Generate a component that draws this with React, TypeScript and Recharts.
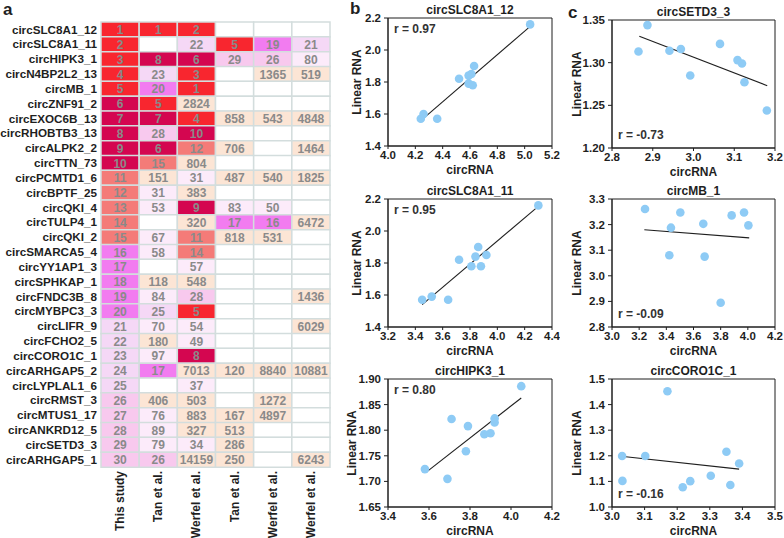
import React from "react";
import {
  BarChart,
  Bar,
  XAxis,
  YAxis,
  Cell,
  LabelList,
  ScatterChart,
  Scatter,
  ReferenceLine,
  ReferenceArea,
} from "recharts";

const FONT = '"Liberation Sans", Arial, Helvetica, sans-serif';
const INK = "#1f1f1f";
const DOT = "#8ECBF5";

// ---- panel a: ranking table ----
const rowNames = [
  "circSLC8A1_12", "circSLC8A1_11", "circHIPK3_1", "circN4BP2L2_13", "circMB_1",
  "circZNF91_2", "circEXOC6B_13", "circRHOBTB3_13", "circALPK2_2", "circTTN_73",
  "circPCMTD1_6", "circBPTF_25", "circQKI_4", "circTULP4_1", "circQKI_2",
  "circSMARCA5_4", "circYY1AP1_3", "circSPHKAP_1", "circFNDC3B_8", "circMYBPC3_3",
  "circLIFR_9", "circFCHO2_5", "circCORO1C_1", "circARHGAP5_2", "circLYPLAL1_6",
  "circRMST_3", "circMTUS1_17", "circANKRD12_5", "circSETD3_3", "circARHGAP5_1",
];
const thisStudy = [1, 2, 3, 4, 5, 6, 7, 8, 9, 10, 11, 12, 13, 14, 15, 16, 17, 18, 19, 20, 21, 22, 23, 24, 25, 26, 27, 28, 29, 30];
const humanTan = [1, null, 8, 23, 20, 5, 7, 28, 6, 15, 151, 31, 53, null, 67, 58, null, 118, 84, 25, 70, 180, 97, 17, null, 406, 76, 89, 79, 26];
const humanWerfel = [2, 22, 6, 3, 1, 2824, 4, 10, 12, 804, 31, 383, 9, 320, 11, 14, 57, 548, 28, 5, 54, 49, 8, 7013, 37, 503, 883, 327, 34, 14159];
const mouseTan = [null, 5, 29, null, null, null, 858, null, 706, null, 487, null, 83, 17, 818, null, null, null, null, null, null, null, null, 120, null, null, 167, 513, 286, 250];
const mouseWerfel = [null, 19, 26, 1365, null, null, 543, null, null, null, 540, null, 50, 16, 531, null, null, null, null, null, null, null, null, 8840, null, 1272, 4897, null, null, null];
const ratWerfel = [null, 21, 80, 519, null, null, 4848, null, 1464, null, 1825, null, null, 6472, null, null, null, null, 1436, null, 6029, null, null, 10881, null, null, null, null, null, 6243];

const columns = [thisStudy, humanTan, humanWerfel, mouseTan, mouseWerfel, ratWerfel];
const colNames = ["This study", "Tan et al.", "Werfel et al.", "Tan et al.", "Werfel et al.", "Werfel et al."];
const groupNames = ["Human", "Mouse", "Rat"];
const groupCenters = [1.5, 4, 5.5];
const groupSpans = [3, 2, 1];

function rankColor(v: number | null) {
  if (v == null) return "#ffffff";
  if (v <= 5) return "#F8262F";
  if (v <= 10) return "#D40650";
  if (v <= 15) return "#F47B78";
  if (v <= 20) return "#F27CF0";
  if (v <= 25) return "#F5D8F6";
  if (v <= 30) return "#F8C9EE";
  if (v <= 100) return "#FCEBFA";
  return "#FCE5D5";
}

const heatData = rowNames.map((name, i) => {
  const row: any = { name };
  columns.forEach((col, k) => {
    row[`c${k}`] = 1;
    row[`v${k}`] = col[i];
  });
  return row;
});

const HEAT_W = 340;
const HEAT_LEFT = 101;
const HEAT_RIGHT = 10;
const colW = (HEAT_W - HEAT_LEFT - HEAT_RIGHT) / 6;

function ColTick(props: any) {
  const { x, y, payload } = props;
  const label = colNames[Math.floor(payload.value)];
  return (
    <text
      transform={`translate(${x},${y}) rotate(-90)`}
      textAnchor="end"
      dominantBaseline="central"
      fill={INK}
      fontSize={12}
      fontWeight="bold"
    >
      {label}
    </text>
  );
}

function GroupTick(props: any) {
  const { x, y, payload } = props;
  const idx = groupCenters.indexOf(payload.value);
  const half = (groupSpans[idx] * colW) / 2 - 2;
  return (
    <g>
      <text x={x} y={y - 4} textAnchor="middle" fill="#555" fontSize={12} fontWeight="bold">
        {groupNames[idx]}
      </text>
      <line x1={x - half} x2={x + half} y1={y - 0.5} y2={y - 0.5} stroke="#555" strokeWidth={1.3} />
    </g>
  );
}

function CellLabel(p: any) {
  if (p.value == null) return null;
  const vb = p.viewBox ?? p;
  return (
    <text
      x={vb.x + vb.width / 2}
      y={vb.y + vb.height / 2 + 0.5}
      textAnchor="middle"
      dominantBaseline="central"
      fill="#8a8a8a"
      fontSize={12}
      fontWeight="bold"
    >
      {p.value}
    </text>
  );
}

function Heatmap() {
  return (
    <BarChart
      width={HEAT_W}
      height={538}
      data={heatData}
      layout="vertical"
      barCategoryGap={0}
      margin={{ top: 0, right: HEAT_RIGHT, left: 0, bottom: 0 }}
    >
      <XAxis
        type="number"
        domain={[0, 6]}
        ticks={[0.5, 1.5, 2.5, 3.5, 4.5, 5.5]}
        interval={0}
        height={71}
        axisLine={false}
        tickLine={false}
        tickSize={0}
        tickMargin={4}
        tick={<ColTick />}
      />
      <XAxis
        xAxisId="top"
        orientation="top"
        type="number"
        domain={[0, 6]}
        ticks={groupCenters}
        interval={0}
        height={22}
        axisLine={false}
        tickLine={false}
        tickSize={0}
        tickMargin={4}
        tick={<GroupTick />}
      />
      <YAxis
        type="category"
        dataKey="name"
        width={HEAT_LEFT}
        interval={0}
        axisLine={false}
        tickLine={false}
        tickSize={0}
        tickMargin={4}
        tick={{ fill: INK, fontSize: 11.7, fontWeight: "bold" }}
      />
      {columns.map((col, k) => (
        <Bar
          key={k}
          dataKey={`c${k}`}
          stackId="s"
          isAnimationActive={false}
          stroke="#D3DDDD"
          strokeWidth={1.5}
        >
          {col.map((v, i) => (
            <Cell key={i} fill={rankColor(v)} />
          ))}
          <LabelList dataKey={`v${k}`} content={<CellLabel />} />
        </Bar>
      ))}
    </BarChart>
  );
}

// ---- panels b and c: circRNA vs linear RNA ----
const slc12Circ = [5.04, 4.63, 4.61, 4.59, 4.52, 4.59, 4.62, 4.26, 4.24, 4.36];
const slc12Linear = [2.16, 1.9, 1.85, 1.84, 1.82, 1.79, 1.78, 1.6, 1.57, 1.57];
const slc12Fit = [[4.27, 1.58], [5.03, 2.14]];

const slc11Circ = [4.3, 3.86, 3.84, 3.92, 3.72, 3.81, 3.88, 3.52, 3.45, 3.64];
const slc11Linear = [2.16, 1.9, 1.84, 1.85, 1.82, 1.78, 1.78, 1.59, 1.57, 1.57];
const slc11Fit = [[3.45, 1.54], [4.28, 2.14]];

const hipkCirc = [4.05, 3.71, 3.79, 3.92, 3.92, 3.87, 3.9, 3.78, 3.58, 3.69];
const hipkLinear = [1.886, 1.822, 1.808, 1.823, 1.815, 1.792, 1.794, 1.759, 1.724, 1.705];
const hipkFit = [[3.59, 1.719], [4.05, 1.863]];

const setdCirc = [2.887, 2.865, 2.941, 2.969, 2.992, 3.065, 3.108, 3.119, 3.125, 3.18];
const setdLinear = [1.344, 1.313, 1.314, 1.316, 1.285, 1.322, 1.303, 1.299, 1.277, 1.244];
const setdFit = [[2.867, 1.331], [3.181, 1.273]];

const mbCirc = [3.243, 3.503, 3.434, 3.672, 3.881, 3.972, 4.004, 3.422, 3.682, 3.8];
const mbLinear = [3.261, 3.247, 3.188, 3.203, 3.236, 3.247, 3.197, 3.08, 3.075, 2.895];
const mbFit = [[3.238, 3.18], [4.01, 3.148]];

const coroCirc = [3.17, 3.031, 3.102, 3.351, 3.39, 3.303, 3.24, 3.217, 3.363, 3.032];
const coroLinear = [1.452, 1.199, 1.199, 1.216, 1.17, 1.122, 1.101, 1.077, 1.086, 1.102];
const coroFit = [[3.035, 1.197], [3.39, 1.148]];

const tickStyle = { fill: INK, fontSize: 11.5, fontWeight: "bold" };
const PLOT_H = 128;
const X_AXIS_H = 28;

function ScatterPanel(props: any) {
  const {
    left, plotTop, width, yAxisWidth, rightMargin, title, xs, ys, fit,
    xDomain, xTicks, yDomain, yTicks, yDigits, rText, rAtBottom, labelOffset,
  } = props;
  const top = plotTop - 10;
  const height = 10 + PLOT_H + X_AXIS_H + 2;
  const plotW = width - yAxisWidth - rightMargin;
  const pts = xs.map((x: number, i: number) => ({ x, y: ys[i] }));
  return (
    <div style={{ position: "absolute", left, top, width, height }}>
      <ScatterChart
        width={width}
        height={height}
        margin={{ top: 10, right: rightMargin, left: 0, bottom: 2 }}
      >
        <XAxis
          type="number"
          dataKey="x"
          domain={xDomain}
          ticks={xTicks}
          interval={0}
          allowDataOverflow
          height={X_AXIS_H}
          stroke={INK}
          tickSize={3}
          tickMargin={2}
          tick={tickStyle}
          tickFormatter={(v: number) => v.toFixed(1)}
          label={{ value: "circRNA", position: "insideBottom", offset: 0, fill: INK, fontSize: 12, fontWeight: "bold" }}
        />
        <YAxis
          type="number"
          dataKey="y"
          domain={yDomain}
          ticks={yTicks}
          interval={0}
          allowDataOverflow
          width={yAxisWidth}
          stroke={INK}
          tickSize={4}
          tickMargin={3}
          tick={tickStyle}
          tickFormatter={(v: number) => v.toFixed(yDigits)}
          label={{
            value: "Linear RNA",
            angle: -90,
            position: "insideLeft",
            offset: labelOffset ?? 17,
            fill: INK,
            fontSize: 12,
            fontWeight: "bold",
            style: { textAnchor: "middle" },
          }}
        />
        <ReferenceArea
          x1={xDomain[0]}
          x2={xDomain[1]}
          y1={yDomain[0]}
          y2={yDomain[1]}
          fill="none"
          stroke={INK}
          strokeWidth={1}
        />
        <Scatter
          data={pts}
          isAnimationActive={false}
          shape={(p: any) => <circle cx={p.cx} cy={p.cy} r={4.3} fill={DOT} />}
        />
        <ReferenceLine
          segment={[{ x: fit[0][0], y: fit[0][1] }, { x: fit[1][0], y: fit[1][1] }]}
          stroke={INK}
          strokeWidth={1.1}
        />
      </ScatterChart>
      <div
        style={{
          position: "absolute",
          left: yAxisWidth,
          width: plotW,
          top: 2 - 7,
          height: 14,
          lineHeight: "14px",
          textAlign: "center",
          fontSize: 12,
          fontWeight: "bold",
          color: INK,
        }}
      >
        {title}
      </div>
      <div
        style={{
          position: "absolute",
          left: yAxisWidth + 6,
          top: rAtBottom ? 10 + PLOT_H - 13 - 7 : 10 + 11 - 7,
          height: 14,
          lineHeight: "14px",
          fontSize: 12,
          fontWeight: "bold",
          color: "#333",
          whiteSpace: "nowrap",
        }}
      >
        {rText}
      </div>
    </div>
  );
}

const panelLetter = (txt: string, left: number, top: number) => (
  <div
    style={{
      position: "absolute",
      left,
      top,
      fontSize: 17,
      fontWeight: "bold",
      lineHeight: "18px",
      color: INK,
    }}
  >
    {txt}
  </div>
);

export default function App() {
  const b = { left: 340, width: 220, yAxisWidth: 48, rightMargin: 8 };
  const c = { left: 560, width: 224, yAxisWidth: 52, rightMargin: 9 };
  return (
    <div
      style={{
        position: "absolute",
        left: 0,
        top: 0,
        width: 784,
        height: 538,
        background: "#fff",
        fontFamily: FONT,
        overflow: "hidden",
      }}
    >
      <div style={{ position: "absolute", left: 0, top: 0 }}>
        <Heatmap />
      </div>
      {panelLetter("a", 3, 1)}
      {panelLetter("b", 350, 0)}
      {panelLetter("c", 568, 4)}

      <ScatterPanel
        {...b}
        plotTop={18}
        title="circSLC8A1_12"
        xs={slc12Circ}
        ys={slc12Linear}
        fit={slc12Fit}
        xDomain={[4.0, 5.2]}
        xTicks={[4.0, 4.2, 4.4, 4.6, 4.8, 5.0, 5.2]}
        yDomain={[1.4, 2.2]}
        yTicks={[1.4, 1.6, 1.8, 2.0, 2.2]}
        yDigits={1}
        rText="r = 0.97"
      />
      <ScatterPanel
        {...b}
        plotTop={199}
        title="circSLC8A1_11"
        xs={slc11Circ}
        ys={slc11Linear}
        fit={slc11Fit}
        xDomain={[3.2, 4.4]}
        xTicks={[3.2, 3.4, 3.6, 3.8, 4.0, 4.2, 4.4]}
        yDomain={[1.4, 2.2]}
        yTicks={[1.4, 1.6, 1.8, 2.0, 2.2]}
        yDigits={1}
        rText="r = 0.95"
      />
      <ScatterPanel
        {...b}
        plotTop={379}
        title="circHIPK3_1"
        xs={hipkCirc}
        ys={hipkLinear}
        fit={hipkFit}
        xDomain={[3.4, 4.2]}
        xTicks={[3.4, 3.6, 3.8, 4.0, 4.2]}
        yDomain={[1.65, 1.9]}
        yTicks={[1.65, 1.7, 1.75, 1.8, 1.85, 1.9]}
        yDigits={2}
        rText="r = 0.80"
        labelOffset={12}
      />
      <ScatterPanel
        {...c}
        plotTop={20}
        title="circSETD3_3"
        xs={setdCirc}
        ys={setdLinear}
        fit={setdFit}
        xDomain={[2.8, 3.2]}
        xTicks={[2.8, 2.9, 3.0, 3.1, 3.2]}
        yDomain={[1.2, 1.35]}
        yTicks={[1.2, 1.25, 1.3, 1.35]}
        yDigits={2}
        rText="r = -0.73"
        rAtBottom
      />
      <ScatterPanel
        {...c}
        plotTop={199}
        title="circMB_1"
        xs={mbCirc}
        ys={mbLinear}
        fit={mbFit}
        xDomain={[3.0, 4.2]}
        xTicks={[3.0, 3.2, 3.4, 3.6, 3.8, 4.0, 4.2]}
        yDomain={[2.8, 3.3]}
        yTicks={[2.8, 2.9, 3.0, 3.1, 3.2, 3.3]}
        yDigits={1}
        rText="r = -0.09"
        rAtBottom
      />
      <ScatterPanel
        {...c}
        plotTop={379}
        title="circCORO1C_1"
        xs={coroCirc}
        ys={coroLinear}
        fit={coroFit}
        xDomain={[3.0, 3.5]}
        xTicks={[3.0, 3.1, 3.2, 3.3, 3.4, 3.5]}
        yDomain={[1.0, 1.5]}
        yTicks={[1.0, 1.1, 1.2, 1.3, 1.4, 1.5]}
        yDigits={1}
        rText="r = -0.16"
        rAtBottom
      />
    </div>
  );
}
